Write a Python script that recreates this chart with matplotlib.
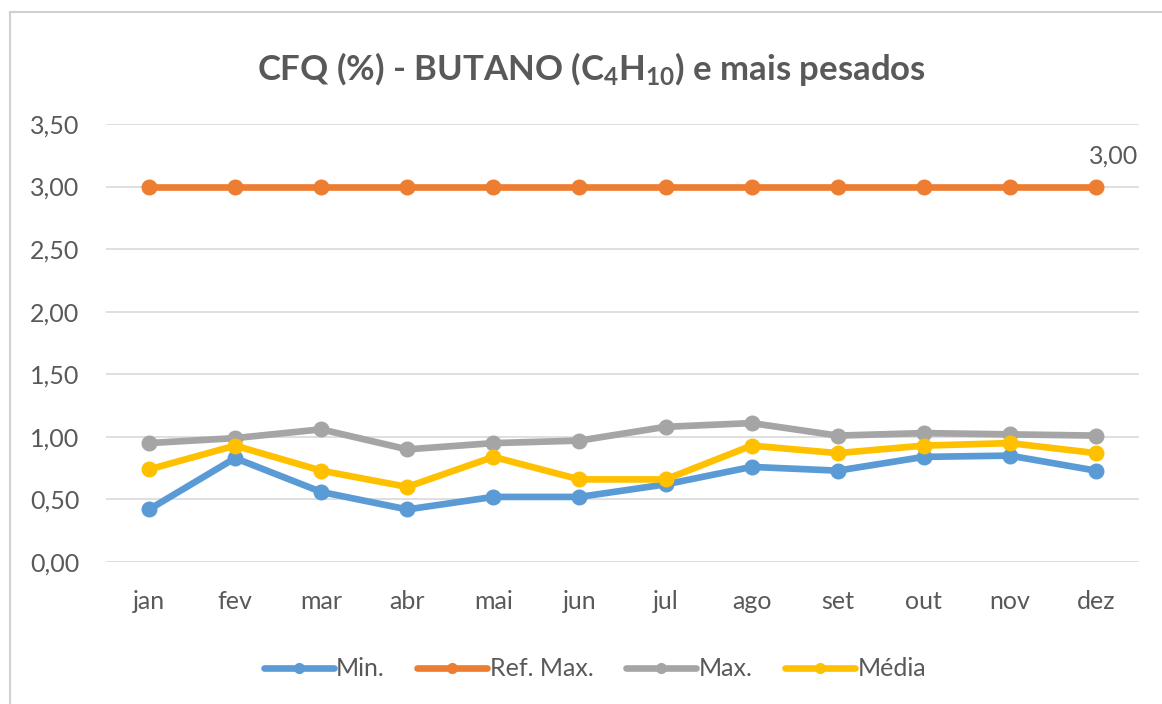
import matplotlib
matplotlib.use('Agg')
import matplotlib.pyplot as plt
from matplotlib.patches import Rectangle
from matplotlib.lines import Line2D
from matplotlib.ticker import FuncFormatter, MultipleLocator

plt.rcParams['font.family'] = ['Lato', 'DejaVu Sans']
plt.rcParams['mathtext.fontset'] = 'custom'
plt.rcParams['mathtext.rm'] = 'Lato'
plt.rcParams['mathtext.bf'] = 'Lato:bold'
plt.rcParams['mathtext.default'] = 'bf'

meses = ['jan', 'fev', 'mar', 'abr', 'mai', 'jun', 'jul', 'ago', 'set', 'out', 'nov', 'dez']
v_min = [0.42, 0.83, 0.56, 0.42, 0.52, 0.52, 0.62, 0.76, 0.73, 0.84, 0.85, 0.73]
ref_max = [3.00] * 12
v_max = [0.95, 0.99, 1.06, 0.90, 0.95, 0.97, 1.08, 1.11, 1.01, 1.03, 1.02, 1.01]
media = [0.74, 0.93, 0.73, 0.60, 0.84, 0.66, 0.66, 0.93, 0.87, 0.93, 0.95, 0.87]

cinza = '#595959'
fs = 18

fig = plt.figure(figsize=(11.62, 7.04), dpi=100)
fig.patches.append(Rectangle((0.009, -0.01), 1.0, 0.993, transform=fig.transFigure,
                             fill=False, edgecolor='#D0D0D0', lw=1.5))
ax = fig.add_axes([0.0912, 0.2017, 0.889, 0.6222])

x = range(len(meses))
series = [('Min.', v_min, '#5B9BD5'), ('Ref. Max.', ref_max, '#ED7D31'),
          ('Max.', v_max, '#A5A5A5'), ('Média', media, '#FFC000')]
handles = []
for nome, vals, cor in series:
    ax.plot(x, vals, color=cor, lw=4.8, marker='o', ms=10.5, solid_capstyle='round')
    handles.append(Line2D([], [], color=cor, lw=4.8, marker='o', ms=7, solid_capstyle='round'))

ax.annotate('3,00', (11, ref_max[-1]), xytext=(13, 22), textcoords='offset points',
            ha='center', va='center', fontsize=fs, color=cinza)

ax.set_xlim(-0.5, 11.5)
ax.set_ylim(0, 3.5)
ax.yaxis.set_major_locator(MultipleLocator(0.5))
ax.yaxis.set_major_formatter(FuncFormatter(lambda v, p: ('%.2f' % v).replace('.', ',')))
ax.set_xticks(list(x))
ax.set_xticklabels(meses)
ax.tick_params(length=0, labelsize=fs, labelcolor=cinza)
ax.tick_params(axis='x', pad=20)
ax.tick_params(axis='y', pad=19)
ax.grid(axis='y', color='#D9D9D9', lw=1.2)
ax.set_axisbelow(True)
for s in ax.spines.values():
    s.set_visible(False)

fig.text(0.509, 0.886, r'CFQ (%) - BUTANO (C$_4$H$_{10}$) e mais pesados', ha='center', va='baseline',
         fontsize=25, fontweight='bold', color=cinza)

fig.legend(handles, [s[0] for s in series], loc='center', bbox_to_anchor=(0.512, 0.05), ncol=4,
           frameon=False, fontsize=fs, labelcolor=cinza, handlelength=2.8, columnspacing=1.3,
           handletextpad=0.1)

fig.savefig('out.png', dpi=100)
